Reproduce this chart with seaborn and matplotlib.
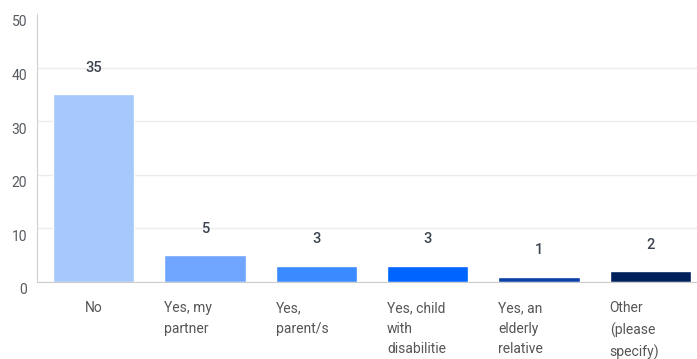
import matplotlib.pyplot as plt
import matplotlib.transforms as mtrans
import seaborn as sns
import pandas as pd

# survey answers
categories = ["No", "Yes, my partner", "Yes, parent/s", "Yes, child with disabilitie",
              "Yes, an elderly relative", "Other (please specify)"]
labels = ["No", "Yes, my\npartner", "Yes,\nparent/s", "Yes, child\nwith\ndisabilitie",
          "Yes, an\nelderly\nrelative", "Other\n(please\nspecify)"]
counts = [35, 5, 3, 3, 1, 2]
colours = ["#a6c8fa", "#70a5ff", "#3a8bff", "#0064ff", "#0b40a6", "#00205b"]

sns.set_style("white")
plt.rcParams['font.family'] = ['Roboto', 'DejaVu Sans']

df = pd.DataFrame({"cat": categories, "n": counts})

fig = plt.figure(figsize=(6.97, 3.59), dpi=100)
ax = fig.add_axes([37/697, 77/359, 660/697, 268/359])

sns.barplot(data=df, x="cat", y="n", hue="cat", palette=colours, legend=False,
            width=0.73, saturation=1, ax=ax)

ax.set_ylim(0, 50)
ax.set_xlim(-0.51, 5.42)
ax.set_yticks([0, 10, 20, 30, 40, 50])
ax.yaxis.grid(True, color="#ececec", linewidth=1)
ax.get_ygridlines()[-1].set_visible(False)  # no line at the top
ax.set_axisbelow(True)
for s in ["top", "right"]:
    ax.spines[s].set_visible(False)
ax.spines["left"].set_color("#d0d0d0")
ax.spines["bottom"].set_color("#cccccc")
ax.tick_params(axis="y", length=0, labelsize=10, labelcolor="#555a60", pad=7)
ax.set_xlabel("")
ax.set_ylabel("")

# y labels sit a bit under their gridline
shift = mtrans.ScaledTranslation(0, -7/100, fig.dpi_scale_trans)
for t in ax.get_yticklabels():
    t.set_transform(t.get_transform() + shift)

# category labels, wrapped ones are left aligned to the bar edge
ax.set_xticks(range(len(categories)))
ax.set_xticklabels([])
ax.tick_params(axis="x", length=0)
trans = mtrans.blended_transform_factory(ax.transData, ax.transAxes)
for i, lab in enumerate(labels):
    if "\n" in lab:
        x, ha = i - 0.365, "left"
    else:
        x, ha = i, "center"
    ax.text(x, -0.072, lab, transform=trans, ha=ha, va="top", fontsize=10,
            color="#555555", linespacing=1.58)

for c in ax.containers:
    ax.bar_label(c, padding=14, fontsize=10.5, color="#3b4450", fontweight="medium")

fig.savefig("out.png", dpi=100)
